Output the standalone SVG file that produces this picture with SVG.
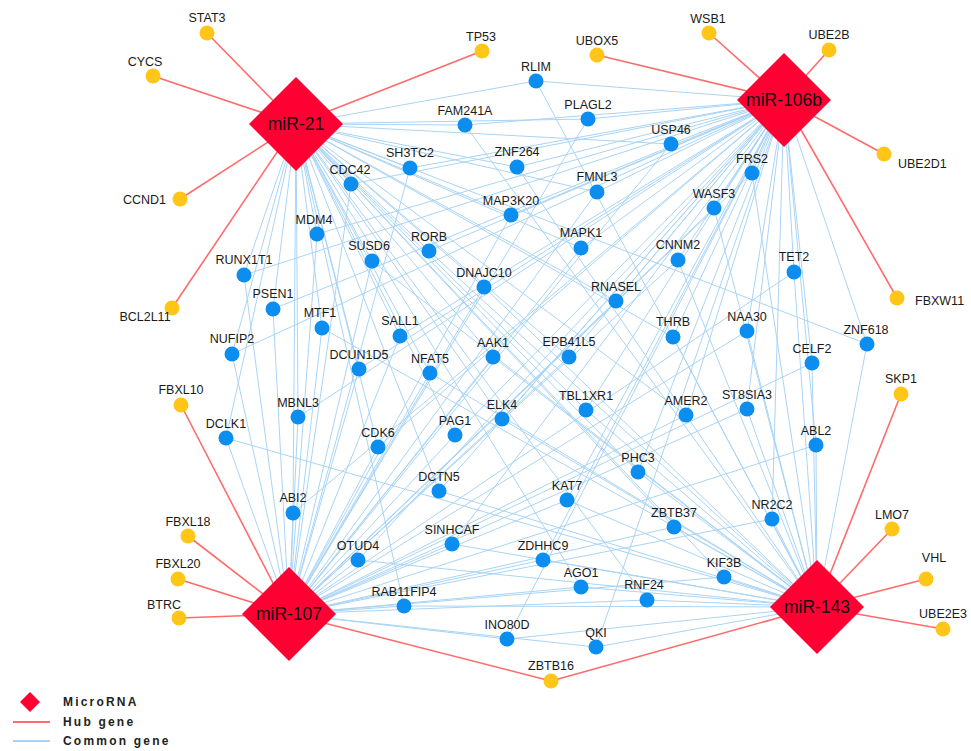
<svg xmlns="http://www.w3.org/2000/svg" width="971" height="751" viewBox="0 0 971 751">
<style>
.bl{stroke:#a9d4f5;stroke-width:1;fill:none}
.rd{stroke:#ff6b6b;stroke-width:1.6;fill:none}
.gn{fill:#0b8ef0}
.hb{fill:#ffc517}
.mi{fill:#ff0033}
text{font-family:"Liberation Sans",Arial,Helvetica,sans-serif;fill:#1a1a1a}
.lb{font-size:12.5px;text-anchor:middle}
.ls{font-size:12.5px}
.ml{font-size:17.5px;text-anchor:middle;fill:#111}
.lg{font-size:12px;font-weight:bold;letter-spacing:2.2px;fill:#222}
</style>
<rect width="971" height="751" fill="#fff"/>
<g id="connectors">
<g class="bl">
<path d="M536 81L296 124M536 81L784 100M536 81L817 607"/>
<path d="M465 125L296 124M465 125L784 100M465 125L817 607"/>
<path d="M588 119L296 124M588 119L784 100M588 119L289 614"/>
<path d="M671 144L296 124M671 144L784 100M671 144L289 614"/>
<path d="M410 168L296 124M410 168L784 100M410 168L289 614"/>
<path d="M517 167L296 124M517 167L784 100M517 167L817 607"/>
<path d="M752 173L784 100M752 173L289 614M752 173L817 607"/>
<path d="M351 184L296 124M351 184L784 100M351 184L289 614"/>
<path d="M597 192L296 124M597 192L784 100M597 192L289 614"/>
<path d="M714 208L784 100M714 208L289 614M714 208L817 607"/>
<path d="M511 215L296 124M511 215L784 100M511 215L289 614"/>
<path d="M317 234L296 124M317 234L784 100M317 234L289 614"/>
<path d="M429 251L296 124M429 251L784 100M429 251L817 607"/>
<path d="M581 248L296 124M581 248L784 100M581 248L289 614"/>
<path d="M678 260L784 100M678 260L289 614M678 260L817 607"/>
<path d="M794 272L784 100M794 272L289 614M794 272L817 607"/>
<path d="M244 275L296 124M244 275L784 100M244 275L289 614"/>
<path d="M372 261L296 124M372 261L289 614M372 261L817 607"/>
<path d="M484 287L296 124M484 287L289 614M484 287L817 607"/>
<path d="M616 301L296 124M616 301L784 100M616 301L289 614"/>
<path d="M273 309L296 124M273 309L784 100M273 309L289 614"/>
<path d="M322 328L296 124M322 328L289 614M322 328L817 607"/>
<path d="M400 336L296 124M400 336L784 100M400 336L289 614"/>
<path d="M673 337L296 124M673 337L784 100M673 337L817 607"/>
<path d="M747 331L784 100M747 331L289 614M747 331L817 607"/>
<path d="M232 354L296 124M232 354L784 100M232 354L289 614"/>
<path d="M359 369L296 124M359 369L784 100M359 369L289 614"/>
<path d="M430 373L296 124M430 373L289 614M430 373L817 607"/>
<path d="M493 357L296 124M493 357L289 614M493 357L817 607"/>
<path d="M569 357L296 124M569 357L784 100M569 357L289 614"/>
<path d="M867 344L296 124M867 344L784 100M867 344L817 607"/>
<path d="M812 363L784 100M812 363L289 614M812 363L817 607"/>
<path d="M747 409L784 100M747 409L289 614M747 409L817 607"/>
<path d="M586 410L296 124M586 410L784 100M586 410L817 607"/>
<path d="M686 415L296 124M686 415L784 100M686 415L289 614"/>
<path d="M502 419L296 124M502 419L784 100M502 419L817 607"/>
<path d="M298 417L296 124M298 417L784 100M298 417L289 614"/>
<path d="M226 438L296 124M226 438L289 614M226 438L817 607"/>
<path d="M378 447L296 124M378 447L784 100M378 447L289 614"/>
<path d="M455 435L296 124M455 435L784 100M455 435L289 614"/>
<path d="M816 445L784 100M816 445L289 614M816 445L817 607"/>
<path d="M638 472L296 124M638 472L784 100M638 472L817 607"/>
<path d="M439 491L296 124M439 491L784 100M439 491L817 607"/>
<path d="M567 500L784 100M567 500L289 614M567 500L817 607"/>
<path d="M293 513L296 124M293 513L784 100M293 513L289 614"/>
<path d="M674 527L296 124M674 527L289 614M674 527L817 607"/>
<path d="M772 519L784 100M772 519L289 614M772 519L817 607"/>
<path d="M358 560L784 100M358 560L289 614M358 560L817 607"/>
<path d="M452 544L784 100M452 544L289 614M452 544L817 607"/>
<path d="M543 560L784 100M543 560L289 614M543 560L817 607"/>
<path d="M724 577L296 124M724 577L289 614M724 577L817 607"/>
<path d="M581 587L296 124M581 587L289 614M581 587L817 607"/>
<path d="M647 600L296 124M647 600L289 614M647 600L817 607"/>
<path d="M404 606L296 124M404 606L289 614M404 606L817 607"/>
<path d="M507 639L784 100M507 639L289 614M507 639L817 607"/>
<path d="M596 647L784 100M596 647L289 614M596 647L817 607"/>
</g>
<g class="rd">
<path d="M296 124L207 33M296 124L153 76M296 124L180 199M296 124L172 308M296 124L482 51"/>
<path d="M784 100L709 33M784 100L829 50M784 100L597 55M784 100L884 154M784 100L897 298"/>
<path d="M289 614L181 405M289 614L188 536M289 614L178 579M289 614L179 618M289 614L551 681"/>
<path d="M817 607L901 394M817 607L892 529M817 607L926 579M817 607L943 629M817 607L551 681"/>
</g>
</g>
<g id="genes">
<g id="RLIM"><circle class="gn" cx="536" cy="81" r="7.5"/><text class="lb" x="536" y="71">RLIM</text></g>
<g id="FAM241A"><circle class="gn" cx="465" cy="125" r="7.5"/><text class="lb" x="465" y="115">FAM241A</text></g>
<g id="PLAGL2"><circle class="gn" cx="588" cy="119" r="7.5"/><text class="lb" x="588" y="109">PLAGL2</text></g>
<g id="USP46"><circle class="gn" cx="671" cy="144" r="7.5"/><text class="lb" x="671" y="134">USP46</text></g>
<g id="SH3TC2"><circle class="gn" cx="410" cy="168" r="7.5"/><text class="lb" x="410" y="157">SH3TC2</text></g>
<g id="ZNF264"><circle class="gn" cx="517" cy="167" r="7.5"/><text class="lb" x="517" y="156">ZNF264</text></g>
<g id="FRS2"><circle class="gn" cx="752" cy="173" r="7.5"/><text class="lb" x="752" y="163">FRS2</text></g>
<g id="CDC42"><circle class="gn" cx="351" cy="184" r="7.5"/><text class="lb" x="350" y="174">CDC42</text></g>
<g id="FMNL3"><circle class="gn" cx="597" cy="192" r="7.5"/><text class="lb" x="597" y="181">FMNL3</text></g>
<g id="WASF3"><circle class="gn" cx="714" cy="208" r="7.5"/><text class="lb" x="714" y="198">WASF3</text></g>
<g id="MAP3K20"><circle class="gn" cx="511" cy="215" r="7.5"/><text class="lb" x="511" y="205">MAP3K20</text></g>
<g id="MDM4"><circle class="gn" cx="317" cy="234" r="7.5"/><text class="lb" x="314" y="224">MDM4</text></g>
<g id="RORB"><circle class="gn" cx="429" cy="251" r="7.5"/><text class="lb" x="429" y="241">RORB</text></g>
<g id="MAPK1"><circle class="gn" cx="581" cy="248" r="7.5"/><text class="lb" x="581" y="237">MAPK1</text></g>
<g id="CNNM2"><circle class="gn" cx="678" cy="260" r="7.5"/><text class="lb" x="678" y="249">CNNM2</text></g>
<g id="TET2"><circle class="gn" cx="794" cy="272" r="7.5"/><text class="lb" x="794" y="261">TET2</text></g>
<g id="RUNX1T1"><circle class="gn" cx="244" cy="275" r="7.5"/><text class="lb" x="244" y="264">RUNX1T1</text></g>
<g id="SUSD6"><circle class="gn" cx="372" cy="261" r="7.5"/><text class="lb" x="369" y="250">SUSD6</text></g>
<g id="DNAJC10"><circle class="gn" cx="484" cy="287" r="7.5"/><text class="lb" x="484" y="277">DNAJC10</text></g>
<g id="RNASEL"><circle class="gn" cx="616" cy="301" r="7.5"/><text class="lb" x="616" y="291">RNASEL</text></g>
<g id="PSEN1"><circle class="gn" cx="273" cy="309" r="7.5"/><text class="lb" x="273" y="298">PSEN1</text></g>
<g id="MTF1"><circle class="gn" cx="322" cy="328" r="7.5"/><text class="lb" x="320" y="317">MTF1</text></g>
<g id="SALL1"><circle class="gn" cx="400" cy="336" r="7.5"/><text class="lb" x="400" y="325">SALL1</text></g>
<g id="THRB"><circle class="gn" cx="673" cy="337" r="7.5"/><text class="lb" x="673" y="326">THRB</text></g>
<g id="NAA30"><circle class="gn" cx="747" cy="331" r="7.5"/><text class="lb" x="747" y="321">NAA30</text></g>
<g id="NUFIP2"><circle class="gn" cx="232" cy="354" r="7.5"/><text class="lb" x="232" y="343">NUFIP2</text></g>
<g id="DCUN1D5"><circle class="gn" cx="359" cy="369" r="7.5"/><text class="lb" x="359" y="359">DCUN1D5</text></g>
<g id="NFAT5"><circle class="gn" cx="430" cy="373" r="7.5"/><text class="lb" x="430" y="363">NFAT5</text></g>
<g id="AAK1"><circle class="gn" cx="493" cy="357" r="7.5"/><text class="lb" x="493" y="347">AAK1</text></g>
<g id="EPB41L5"><circle class="gn" cx="569" cy="357" r="7.5"/><text class="lb" x="569" y="346">EPB41L5</text></g>
<g id="ZNF618"><circle class="gn" cx="867" cy="344" r="7.5"/><text class="lb" x="866" y="334">ZNF618</text></g>
<g id="CELF2"><circle class="gn" cx="812" cy="363" r="7.5"/><text class="lb" x="812" y="353">CELF2</text></g>
<g id="ST8SIA3"><circle class="gn" cx="747" cy="409" r="7.5"/><text class="lb" x="747" y="399">ST8SIA3</text></g>
<g id="TBL1XR1"><circle class="gn" cx="586" cy="410" r="7.5"/><text class="lb" x="586" y="400">TBL1XR1</text></g>
<g id="AMER2"><circle class="gn" cx="686" cy="415" r="7.5"/><text class="lb" x="686" y="405">AMER2</text></g>
<g id="ELK4"><circle class="gn" cx="502" cy="419" r="7.5"/><text class="lb" x="502" y="409">ELK4</text></g>
<g id="MBNL3"><circle class="gn" cx="298" cy="417" r="7.5"/><text class="lb" x="298" y="407">MBNL3</text></g>
<g id="DCLK1"><circle class="gn" cx="226" cy="438" r="7.5"/><text class="lb" x="226" y="428">DCLK1</text></g>
<g id="CDK6"><circle class="gn" cx="378" cy="447" r="7.5"/><text class="lb" x="378" y="437">CDK6</text></g>
<g id="PAG1"><circle class="gn" cx="455" cy="435" r="7.5"/><text class="lb" x="455" y="425">PAG1</text></g>
<g id="ABL2"><circle class="gn" cx="816" cy="445" r="7.5"/><text class="lb" x="816" y="435">ABL2</text></g>
<g id="PHC3"><circle class="gn" cx="638" cy="472" r="7.5"/><text class="lb" x="638" y="462">PHC3</text></g>
<g id="DCTN5"><circle class="gn" cx="439" cy="491" r="7.5"/><text class="lb" x="439" y="481">DCTN5</text></g>
<g id="KAT7"><circle class="gn" cx="567" cy="500" r="7.5"/><text class="lb" x="567" y="490">KAT7</text></g>
<g id="ABI2"><circle class="gn" cx="293" cy="513" r="7.5"/><text class="lb" x="293" y="502">ABI2</text></g>
<g id="ZBTB37"><circle class="gn" cx="674" cy="527" r="7.5"/><text class="lb" x="674" y="517">ZBTB37</text></g>
<g id="NR2C2"><circle class="gn" cx="772" cy="519" r="7.5"/><text class="lb" x="772" y="509">NR2C2</text></g>
<g id="OTUD4"><circle class="gn" cx="358" cy="560" r="7.5"/><text class="lb" x="358" y="550">OTUD4</text></g>
<g id="SINHCAF"><circle class="gn" cx="452" cy="544" r="7.5"/><text class="lb" x="452" y="534">SINHCAF</text></g>
<g id="ZDHHC9"><circle class="gn" cx="543" cy="560" r="7.5"/><text class="lb" x="543" y="550">ZDHHC9</text></g>
<g id="KIF3B"><circle class="gn" cx="724" cy="577" r="7.5"/><text class="lb" x="724" y="567">KIF3B</text></g>
<g id="AGO1"><circle class="gn" cx="581" cy="587" r="7.5"/><text class="lb" x="581" y="577">AGO1</text></g>
<g id="RNF24"><circle class="gn" cx="647" cy="600" r="7.5"/><text class="lb" x="644" y="589">RNF24</text></g>
<g id="RAB11FIP4"><circle class="gn" cx="404" cy="606" r="7.5"/><text class="lb" x="404" y="596">RAB11FIP4</text></g>
<g id="INO80D"><circle class="gn" cx="507" cy="639" r="7.5"/><text class="lb" x="507" y="629">INO80D</text></g>
<g id="QKI"><circle class="gn" cx="596" cy="647" r="7.5"/><text class="lb" x="596" y="637">QKI</text></g>
</g>
<g id="hubgenes">
<g id="STAT3"><circle class="hb" cx="207" cy="33" r="7.5"/><text class="lb" x="207" y="22">STAT3</text></g>
<g id="CYCS"><circle class="hb" cx="153" cy="76" r="7.5"/><text class="lb" x="145" y="66">CYCS</text></g>
<g id="CCND1"><circle class="hb" cx="180" cy="199" r="7.5"/><text class="ls" x="166" y="204" text-anchor="end">CCND1</text></g>
<g id="BCL2L11"><circle class="hb" cx="172" cy="308" r="7.5"/><text class="lb" x="145" y="321">BCL2L11</text></g>
<g id="TP53"><circle class="hb" cx="482" cy="51" r="7.5"/><text class="lb" x="481" y="41">TP53</text></g>
<g id="UBOX5"><circle class="hb" cx="597" cy="55" r="7.5"/><text class="lb" x="597" y="45">UBOX5</text></g>
<g id="WSB1"><circle class="hb" cx="709" cy="33" r="7.5"/><text class="lb" x="708" y="23">WSB1</text></g>
<g id="UBE2B"><circle class="hb" cx="829" cy="50" r="7.5"/><text class="lb" x="829" y="39">UBE2B</text></g>
<g id="UBE2D1"><circle class="hb" cx="884" cy="154" r="7.5"/><text class="ls" x="898" y="168">UBE2D1</text></g>
<g id="FBXW11"><circle class="hb" cx="897" cy="298" r="7.5"/><text class="ls" x="915" y="305">FBXW11</text></g>
<g id="SKP1"><circle class="hb" cx="901" cy="394" r="7.5"/><text class="lb" x="901" y="383">SKP1</text></g>
<g id="LMO7"><circle class="hb" cx="892" cy="529" r="7.5"/><text class="lb" x="892" y="519">LMO7</text></g>
<g id="VHL"><circle class="hb" cx="926" cy="579" r="7.5"/><text class="lb" x="934" y="562">VHL</text></g>
<g id="UBE2E3"><circle class="hb" cx="943" cy="629" r="7.5"/><text class="lb" x="943" y="618">UBE2E3</text></g>
<g id="ZBTB16"><circle class="hb" cx="551" cy="681" r="7.5"/><text class="lb" x="551" y="670">ZBTB16</text></g>
<g id="FBXL10"><circle class="hb" cx="181" cy="405" r="7.5"/><text class="lb" x="181" y="394">FBXL10</text></g>
<g id="FBXL18"><circle class="hb" cx="188" cy="536" r="7.5"/><text class="lb" x="188" y="526">FBXL18</text></g>
<g id="FBXL20"><circle class="hb" cx="178" cy="579" r="7.5"/><text class="lb" x="178" y="568">FBXL20</text></g>
<g id="BTRC"><circle class="hb" cx="179" cy="618" r="7.5"/><text class="lb" x="164" y="609">BTRC</text></g>
</g>
<g id="micrornas">
<g id="miR-21"><polygon class="mi" points="296,77 343,124 296,171 249,124"/><text class="ml" x="296" y="130">miR-21</text></g>
<g id="miR-106b"><polygon class="mi" points="784,53 831,100 784,147 737,100"/><text class="ml" x="784" y="106">miR-106b</text></g>
<g id="miR-107"><polygon class="mi" points="289,567 336,614 289,661 242,614"/><text class="ml" x="289" y="620">miR-107</text></g>
<g id="miR-143"><polygon class="mi" points="817,560 864,607 817,654 770,607"/><text class="ml" x="817" y="613">miR-143</text></g>
</g>
<g id="legend">
<polygon class="mi" points="30,692 40,702 30,712 20,702"/>
<text class="lg" x="63" y="706">MicroRNA</text>
<line x1="13" y1="722" x2="50" y2="722" stroke="#ff6b6b" stroke-width="2"/>
<text class="lg" x="63" y="726">Hub gene</text>
<line x1="13" y1="741" x2="50" y2="741" stroke="#a9d4f5" stroke-width="2"/>
<text class="lg" x="63" y="745">Common gene</text>
</g>
</svg>
